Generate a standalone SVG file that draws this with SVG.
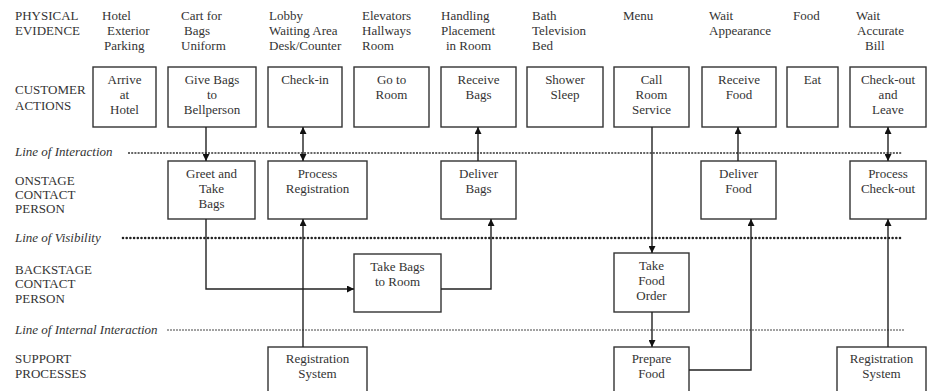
<svg xmlns="http://www.w3.org/2000/svg" width="931" height="391" viewBox="0 0 931 391">
<style>
text{font-family:"Liberation Serif","DejaVu Serif",serif;font-size:13px;fill:#333}
.c{text-anchor:middle}
.i{font-style:italic}
.box{fill:#fff;stroke:#333;stroke-width:1.4}
.con{fill:none;stroke:#222;stroke-width:1.4}
</style>
<defs>
<marker id="ah" viewBox="0 0 10 10" refX="10" refY="5" markerUnits="userSpaceOnUse" markerWidth="8" markerHeight="7" orient="auto-start-reverse">
<path d="M0,0 L10,5 L0,10 z" fill="#111"/>
</marker>
</defs>
<rect width="931" height="391" fill="#fff"/>

<g id="lanes">
<text x="15" y="20">PHYSICAL</text><text x="15" y="35">EVIDENCE</text>
<text x="15" y="94">CUSTOMER</text><text x="15" y="110">ACTIONS</text>
<text x="15" y="185">ONSTAGE</text><text x="15" y="199">CONTACT</text><text x="15" y="213">PERSON</text>
<text x="15" y="274">BACKSTAGE</text><text x="15" y="288">CONTACT</text><text x="15" y="303">PERSON</text>
<text x="15" y="363">SUPPORT</text><text x="15" y="378">PROCESSES</text>
</g>

<g id="lines">
<text class="i" x="15" y="156">Line of Interaction</text>
<line x1="128" y1="153" x2="902" y2="153" stroke="#333" stroke-width="1.3" stroke-dasharray="2 1.2"/>
<text class="i" x="15" y="242">Line of Visibility</text>
<line x1="123" y1="238" x2="902" y2="238" stroke="#222" stroke-width="2.6" stroke-linecap="round" stroke-dasharray="0 3.7"/>
<text class="i" x="15" y="334">Line of Internal Interaction</text>
<line x1="167" y1="330" x2="905" y2="330" stroke="#444" stroke-width="1" stroke-dasharray="2 1"/>
</g>

<g id="evidence">
<text x="102" y="20">Hotel</text><text x="107" y="35">Exterior</text><text x="104" y="50">Parking</text>
<text x="181" y="20">Cart for</text><text x="184" y="35">Bags</text><text x="181" y="50">Uniform</text>
<text x="269" y="20">Lobby</text><text x="269" y="35">Waiting Area</text><text x="269" y="50">Desk/Counter</text>
<text x="362" y="20">Elevators</text><text x="362" y="35">Hallways</text><text x="362" y="50">Room</text>
<text x="441" y="20">Handling</text><text x="441" y="35">Placement</text><text x="446" y="50">in Room</text>
<text x="532" y="20">Bath</text><text x="532" y="35">Television</text><text x="532" y="50">Bed</text>
<text x="623" y="20">Menu</text>
<text x="709" y="20">Wait</text><text x="709" y="35">Appearance</text>
<text x="793" y="20">Food</text>
<text x="856" y="20">Wait</text><text x="857" y="35">Accurate</text><text x="865" y="50">Bill</text>
</g>

<g id="arrive"><rect class="box" x="93" y="67" width="63" height="60"/><text class="c" x="124.5" y="84">Arrive</text><text class="c" x="124.5" y="99">at</text><text class="c" x="124.5" y="114">Hotel</text></g>
<g id="givebags"><rect class="box" x="168" y="67" width="88" height="60"/><text class="c" x="212" y="84">Give Bags</text><text class="c" x="212" y="99">to</text><text class="c" x="212" y="114">Bellperson</text></g>
<g id="checkin"><rect class="box" x="268" y="67" width="74" height="60"/><text class="c" x="305" y="84">Check-in</text></g>
<g id="gotoroom"><rect class="box" x="354" y="67" width="75" height="60"/><text class="c" x="391.5" y="84">Go to</text><text class="c" x="391.5" y="99">Room</text></g>
<g id="receivebags"><rect class="box" x="441" y="67" width="75" height="60"/><text class="c" x="478.5" y="84">Receive</text><text class="c" x="478.5" y="99">Bags</text></g>
<g id="shower"><rect class="box" x="527" y="67" width="76" height="60"/><text class="c" x="565" y="84">Shower</text><text class="c" x="565" y="99">Sleep</text></g>
<g id="callroom"><rect class="box" x="614" y="67" width="75" height="60"/><text class="c" x="651.5" y="84">Call</text><text class="c" x="651.5" y="99">Room</text><text class="c" x="651.5" y="114">Service</text></g>
<g id="receivefood"><rect class="box" x="702" y="67" width="74" height="60"/><text class="c" x="739" y="84">Receive</text><text class="c" x="739" y="99">Food</text></g>
<g id="eat"><rect class="box" x="787" y="67" width="51" height="60"/><text class="c" x="812.5" y="84">Eat</text></g>
<g id="checkout"><rect class="box" x="850" y="67" width="76" height="60"/><text class="c" x="888" y="84">Check-out</text><text class="c" x="888" y="99">and</text><text class="c" x="888" y="114">Leave</text></g>

<g id="greet"><rect class="box" x="168" y="161" width="87" height="58"/><text class="c" x="211.5" y="178">Greet and</text><text class="c" x="211.5" y="193">Take</text><text class="c" x="211.5" y="208">Bags</text></g>
<g id="processreg"><rect class="box" x="268" y="161" width="99" height="58"/><text class="c" x="317.5" y="178">Process</text><text class="c" x="317.5" y="193">Registration</text></g>
<g id="deliverbags"><rect class="box" x="441" y="161" width="75" height="58"/><text class="c" x="478.5" y="178">Deliver</text><text class="c" x="478.5" y="193">Bags</text></g>
<g id="deliverfood"><rect class="box" x="701" y="161" width="75" height="58"/><text class="c" x="738.5" y="178">Deliver</text><text class="c" x="738.5" y="193">Food</text></g>
<g id="processco"><rect class="box" x="850" y="161" width="76" height="58"/><text class="c" x="888" y="178">Process</text><text class="c" x="888" y="193">Check-out</text></g>

<g id="takebags"><rect class="box" x="354" y="254" width="87" height="58"/><text class="c" x="397.5" y="271">Take Bags</text><text class="c" x="397.5" y="286">to Room</text></g>
<g id="takefood"><rect class="box" x="614" y="253" width="75" height="59"/><text class="c" x="651.5" y="270">Take</text><text class="c" x="651.5" y="285">Food</text><text class="c" x="651.5" y="300">Order</text></g>

<g id="regsys1"><rect class="box" x="268" y="347" width="99" height="60"/><text class="c" x="317.5" y="363">Registration</text><text class="c" x="317.5" y="378">System</text></g>
<g id="prepare"><rect class="box" x="614" y="347" width="75" height="60"/><text class="c" x="651.5" y="363">Prepare</text><text class="c" x="651.5" y="378">Food</text></g>
<g id="regsys2"><rect class="box" x="837" y="347" width="89" height="60"/><text class="c" x="881.5" y="363">Registration</text><text class="c" x="881.5" y="378">System</text></g>

<g id="connectors">
<path class="con" d="M206 127 V161" marker-end="url(#ah)"/>
<path class="con" d="M303 127 V161" marker-start="url(#ah)" marker-end="url(#ah)"/>
<path class="con" d="M206 219 V289 H354" marker-end="url(#ah)"/>
<path class="con" d="M303 347 V219" marker-end="url(#ah)"/>
<path class="con" d="M441 289 H491 V219" marker-end="url(#ah)"/>
<path class="con" d="M478 161 V127" marker-end="url(#ah)"/>
<path class="con" d="M652 127 V253" marker-end="url(#ah)"/>
<path class="con" d="M652 312 V347" marker-end="url(#ah)"/>
<path class="con" d="M689 370 H751 V219" marker-end="url(#ah)"/>
<path class="con" d="M738 161 V127" marker-end="url(#ah)"/>
<path class="con" d="M888 127 V161" marker-start="url(#ah)" marker-end="url(#ah)"/>
<path class="con" d="M888 347 V219" marker-end="url(#ah)"/>
</g>
</svg>
